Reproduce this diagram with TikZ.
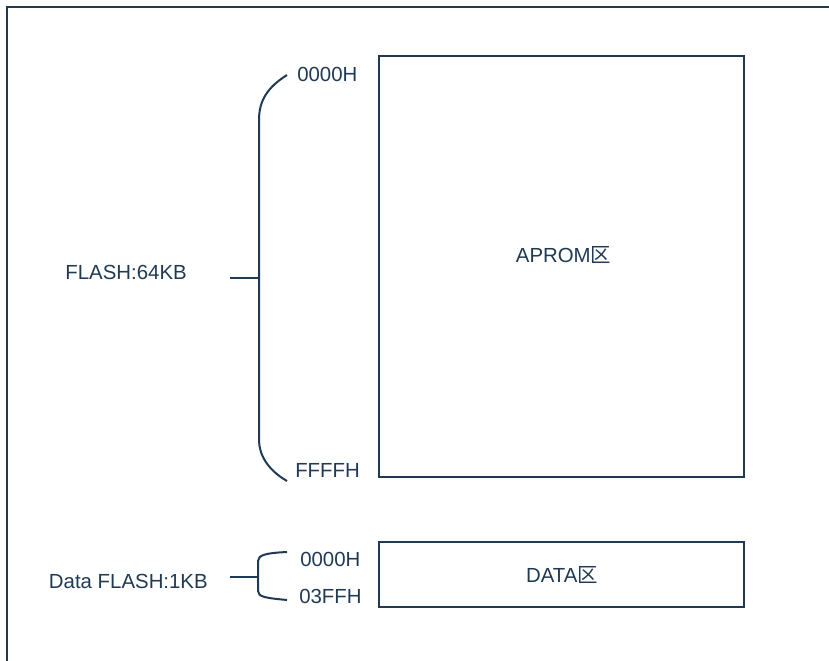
\documentclass[tikz,border=0pt]{standalone}
\usepackage{fontspec}
\setmainfont{Liberation Sans}
\newfontfamily\cjk{Noto Sans CJK SC}
\definecolor{ink}{HTML}{203A54}
\begin{document}
\begin{tikzpicture}[x=0.75pt,y=-0.75pt,
  line/.style={draw=ink,line width=1.5pt},
  lbl/.style={text=ink,font=\fontsize{15.3pt}{18pt}\selectfont,inner sep=0pt},
  membox/.style={draw=ink,line width=1.6pt,inner sep=0pt}]
\useasboundingbox (0,0) rectangle (829,661);
% outer frame (partly cut off)
\draw[line] (7,680) -- (7,6.5) -- (850,6.5);
% memory boxes
\node[membox,minimum width=273.75pt,minimum height=315.75pt] (aprom) at (561.5,266.5) {};
\node[membox,minimum width=273.75pt,minimum height=48.75pt] (data) at (561.5,574.5) {};
\node[lbl] (apromlbl) at (563.5,255) {APROM{\cjk 区}};
\node[lbl] (datalbl) at (562,575) {DATA{\cjk 区}};
% address labels
\node[lbl,anchor=west] (a0) at (297,74) {0000H};
\node[lbl,anchor=west] (a1) at (295,470) {FFFFH};
\node[lbl,anchor=west] (d0) at (300,559) {0000H};
\node[lbl,anchor=west] (d1) at (299,596) {03FFH};
% region labels
\node[lbl,anchor=east] (flash) at (187,272) {FLASH:64KB};
\node[lbl,anchor=east] (dflash) at (208,581) {Data FLASH:1KB};
% big brace
\draw[line] (287,75) .. controls (268,87) and (259,100) .. (259,120)
  -- (259,440) .. controls (259,455) and (268,470) .. (287,481);
\draw[line] (230,278) -- (259,278);
% small brace
\draw[line] (287,552) .. controls (266,553) and (258,555) .. (258,561)
  -- (258,591) .. controls (258,597) and (266,598) .. (287,600);
\draw[line] (230,577) -- (258,577);
\end{tikzpicture}
\end{document}
